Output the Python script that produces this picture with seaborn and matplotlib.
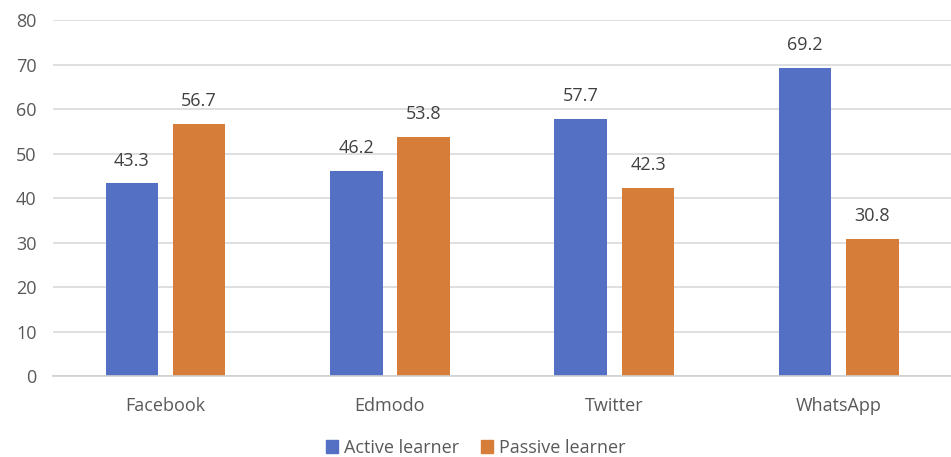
import matplotlib
matplotlib.use("Agg")
import matplotlib.pyplot as plt
import pandas as pd
import seaborn as sns

platforms = ["Facebook", "Edmodo", "Twitter", "WhatsApp"]
active = [43.3, 46.2, 57.7, 69.2]
passive = [56.7, 53.8, 42.3, 30.8]
series_names = ["Active learner", "Passive learner"]
colors = ["#5470C4", "#D67D3A"]

df = pd.DataFrame({
    "platform": platforms * 2,
    "value": active + passive,
    "group": [series_names[0]] * 4 + [series_names[1]] * 4,
})

sns.set_theme(style="white")
plt.rcParams["font.family"] = ["Open Sans", "DejaVu Sans"]
text_color = "#595959"

fig = plt.figure(figsize=(9.51, 4.57), dpi=100)
ax = fig.add_axes([0.056, 0.177, 0.944, 0.779])

sns.barplot(data=df, x="platform", y="value", hue="group", palette=colors,
            width=0.6, gap=0.22, ax=ax, legend=False, saturation=1, linewidth=0)

for cont in ax.containers:
    ax.bar_label(cont, fmt="%.1f", padding=10, fontsize=13, color="#404040")

ax.set_ylim(0, 80)
ax.set_yticks(range(0, 81, 10))
ax.set_xlim(-0.5, 3.5)
ax.yaxis.grid(True, color="#D9D9D9", linewidth=1.2)
ax.set_axisbelow(True)
for s in ["top", "right", "left"]:
    ax.spines[s].set_visible(False)
ax.spines["bottom"].set_color("#D0D0D0")
ax.spines["bottom"].set_linewidth(1.2)
ax.tick_params(axis="both", length=0, labelsize=13, labelcolor=text_color)
ax.tick_params(axis="x", pad=15)
ax.tick_params(axis="y", pad=12)
ax.set_xlabel("")
ax.set_ylabel("")

handles = [plt.Rectangle((0, 0), 1, 1, color=c) for c in colors]
fig.legend(handles, series_names, loc="center", bbox_to_anchor=(0.5, 0.02),
           ncol=2, frameon=False, fontsize=13, handlelength=0.7, handleheight=0.7,
           handletextpad=0.3, columnspacing=1.2, labelcolor=text_color)

fig.savefig("out.png", dpi=100)
